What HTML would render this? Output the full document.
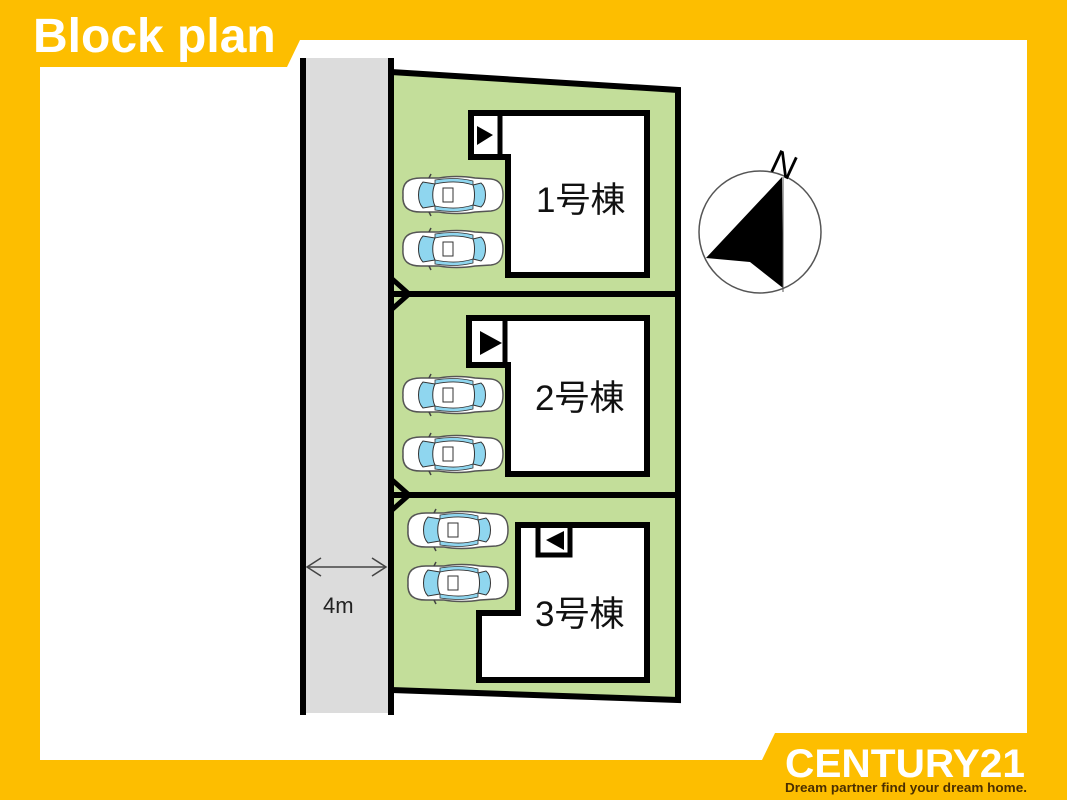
<!DOCTYPE html>
<html><head><meta charset="utf-8"><style>
html,body{margin:0;padding:0;width:1067px;height:800px;overflow:hidden;background:#FDBE00}
svg{display:block}
text{font-family:"Liberation Sans","Noto Sans CJK JP",sans-serif}
</style></head><body>
<svg width="1067" height="800" viewBox="0 0 1067 800" xmlns="http://www.w3.org/2000/svg">
<defs>
<g id="car">
<path d="M4,19 C3,6 10,2 22,2 L40,2 C50,0 65,0 76,2 L92,3 C101,4 104,10 104,19 C104,28 101,34 92,35 L76,36 C65,38 50,38 40,36 L22,36 C10,36 3,32 4,19 Z" fill="#fff" stroke="#555" stroke-width="1.5"/>
<path d="M24,6 C18,12 18,26 24,32 L36,30 C33,24 33,14 36,8 Z" fill="#8fd6ef" stroke="#333" stroke-width="1"/>
<path d="M82,7 C88,12 88,26 82,31 L74,29 C76,23 76,15 74,9 Z" fill="#8fd6ef" stroke="#333" stroke-width="1"/>
<path d="M36,8 C50,5 62,5 74,9 L74,5 C62,2 48,2 36,4 Z" fill="#8fd6ef" stroke="#333" stroke-width="0.8"/>
<path d="M36,30 C50,33 62,33 74,29 L74,33 C62,36 48,36 36,34 Z" fill="#8fd6ef" stroke="#333" stroke-width="0.8"/>
<rect x="44" y="12" width="10" height="14" fill="#fff" stroke="#333" stroke-width="1"/>
<path d="M30,2 L32,-2 M30,36 L32,40" stroke="#444" stroke-width="1.5"/>
</g>
</defs>
<path d="M40,67 L287,67 L300,40 L1027,40 L1027,733 L775,733 L762,760 L40,760 Z" fill="#fff"/>
<text x="33" y="52" font-size="48" font-weight="bold" fill="#fff">Block plan</text>
<rect x="303" y="58" width="88" height="655" fill="#DCDCDC"/>
<line x1="303" y1="58" x2="303" y2="715" stroke="#000" stroke-width="6"/>
<line x1="391" y1="58" x2="391" y2="715" stroke="#000" stroke-width="6"/>
<path d="M391,72 L678,90 L678,700 L391,690 Z" fill="#C3DE9A" stroke="#000" stroke-width="6"/>
<line x1="391" y1="294" x2="678" y2="294" stroke="#000" stroke-width="6"/>
<line x1="391" y1="495" x2="678" y2="495" stroke="#000" stroke-width="6"/>
<path d="M391,278 L409,294 L391,310" fill="none" stroke="#000" stroke-width="5"/>
<path d="M391,479 L409,495 L391,511" fill="none" stroke="#000" stroke-width="5"/>
<path d="M471,113 L647,113 L647,275 L508,275 L508,157 L471,157 Z" fill="#fff" stroke="#000" stroke-width="6"/>
<line x1="500" y1="113" x2="500" y2="157" stroke="#000" stroke-width="5"/>
<path d="M477,126 L493,135 L477,145 Z" fill="#000"/>
<text x="536" y="212" font-size="35" fill="#111">1号棟</text>
<path d="M469,318 L647,318 L647,474 L508,474 L508,365 L469,365 Z" fill="#fff" stroke="#000" stroke-width="6"/>
<line x1="505" y1="318" x2="505" y2="365" stroke="#000" stroke-width="5"/>
<path d="M480,331 L502,343 L480,355 Z" fill="#000"/>
<text x="535" y="410" font-size="35" fill="#111">2号棟</text>
<path d="M518,525 L647,525 L647,680 L479,680 L479,613 L518,613 Z" fill="#fff" stroke="#000" stroke-width="6"/>
<path d="M538,525 L538,555 L570,555 L570,525" fill="none" stroke="#000" stroke-width="5"/>
<path d="M564,531 L546,540 L564,550 Z" fill="#000"/>
<text x="535" y="626" font-size="35" fill="#111">3号棟</text>
<use href="#car" x="399" y="176"/>
<use href="#car" x="399" y="230"/>
<use href="#car" x="399" y="376"/>
<use href="#car" x="399" y="435"/>
<use href="#car" x="404" y="511"/>
<use href="#car" x="404" y="564"/>
<line x1="307" y1="567" x2="386" y2="567" stroke="#444" stroke-width="1.5"/>
<path d="M321,558 L307,567 L321,576 M372,558 L386,567 L372,576" fill="none" stroke="#444" stroke-width="1.5"/>
<text x="323" y="613" font-size="22" fill="#222">4m</text>
<circle cx="760" cy="232" r="61" fill="#fff" stroke="#555" stroke-width="1.5"/>
<path d="M782,177 L706,258 L750,262 L783,288 Z" fill="#000"/>
<line x1="783" y1="177" x2="783" y2="292" stroke="#555" stroke-width="1"/>
<text x="772" y="178" font-size="34" fill="#000" transform="rotate(25 788 165)">N</text>
<text x="785" y="777" font-size="40" font-weight="bold" fill="#fff" textLength="240" lengthAdjust="spacingAndGlyphs">CENTURY21</text>
<text x="785" y="792" font-size="13" font-weight="bold" fill="#4a2e00" textLength="242" lengthAdjust="spacingAndGlyphs">Dream partner find your dream home.</text>
</svg>
</body></html>
